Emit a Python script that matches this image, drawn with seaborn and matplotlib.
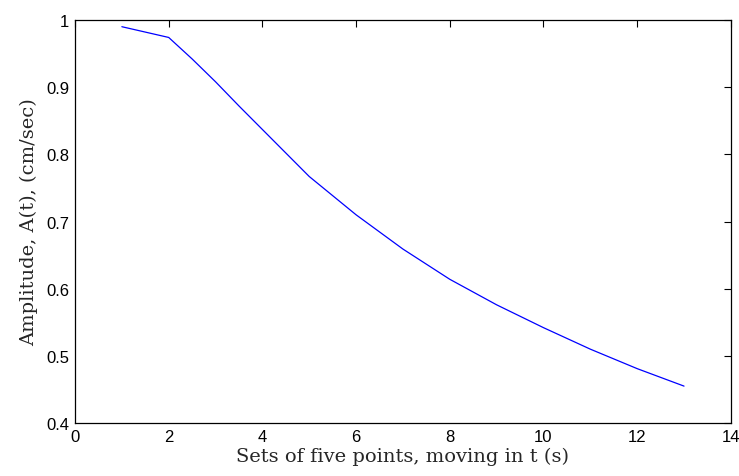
import matplotlib
matplotlib.use("Agg")
import matplotlib.pyplot as plt
import seaborn as sns
import pandas as pd

# values
sets = [1, 2, 2.5, 3, 3.5, 4, 5, 6, 7, 8, 9, 10, 11, 12, 13]
amplitude = [0.990, 0.974, 0.942, 0.908, 0.872, 0.837, 0.767, 0.710,
             0.659, 0.614, 0.576, 0.542, 0.510, 0.481, 0.455]
x_ticks = [0, 2, 4, 6, 8, 10, 12, 14]
y_ticks = [0.4, 0.5, 0.6, 0.7, 0.8, 0.9, 1.0]
y_labels = ["0.4", "0.5", "0.6", "0.7", "0.8", "0.9", "1"]

df = pd.DataFrame({"t": sets, "A": amplitude})

sns.set_style("white")
plt.rcParams["font.family"] = ["Liberation Sans Narrow", "Liberation Sans", "DejaVu Sans"]

fig = plt.figure(figsize=(7.39, 4.77), dpi=100)
ax = fig.add_axes([0.1015, 0.111, 0.8875, 0.845])

sns.lineplot(data=df, x="t", y="A", color=(0, 0, 1), linewidth=0.9, ax=ax)

ax.set_xlim(0, 14)
ax.set_ylim(0.4, 1)
ax.set_xticks(x_ticks)
ax.set_xticklabels([str(v) for v in x_ticks])
ax.set_yticks(y_ticks)
ax.set_yticklabels(y_labels)
ax.tick_params(direction="in", length=5, width=0.8, top=True, right=True,
               labelsize=12, pad=4, colors="black")

for s in ax.spines.values():
    s.set_color("black")
    s.set_linewidth(0.9)

serif = ["DejaVu Serif"]
ax.set_xlabel("Sets of five points, moving in t (s)", fontsize=14, family=serif, labelpad=2)
ax.set_ylabel("Amplitude, A(t), (cm/sec)", fontsize=14, family=serif, labelpad=6)

fig.savefig("out.png", dpi=100)
